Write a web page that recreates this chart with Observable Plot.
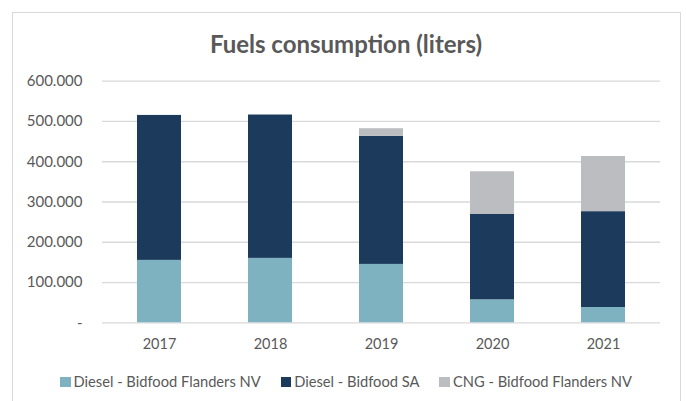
<!DOCTYPE html>
<html>
<head>
<meta charset="utf-8">
<script src="https://cdn.jsdelivr.net/npm/d3@7"></script>
<script src="https://cdn.jsdelivr.net/npm/@observablehq/plot@0.6"></script>
<style>
  html, body { margin: 0; padding: 0; background: #fff; }
  body { width: 686px; height: 401px; position: relative; overflow: hidden; font-family: Lato, "Open Sans", sans-serif; }
  #frame { position: absolute; left: 12px; top: 12px; width: 669px; height: 400px; border: 1.5px solid #d9d9d9; border-bottom: none; box-sizing: border-box; }
  #title { position: absolute; left: 12px; width: 668px; top: 30px; text-align: center; font-weight: bold; font-size: 24px; line-height: 28px; color: #595959; }
  #chart { position: absolute; left: 0; top: 60px; }
  #legend { position: absolute; left: 12px; width: 668px; top: 372px; display: flex; justify-content: center; gap: 20px; font-size: 14.7px; line-height: 19px; color: #595959; }
  #legend .item { display: flex; align-items: center; }
  #legend .sw { width: 10.5px; height: 10px; margin-right: 3px; display: inline-block; }
</style>
</head>
<body>
<div id="frame"></div>
<div id="title">Fuels consumption (liters)</div>
<div id="chart"></div>
<div id="legend"></div>
<script>
const years = ["2017", "2018", "2019", "2020", "2021"];
const seriesNames = ["Diesel - Bidfood Flanders NV", "Diesel - Bidfood SA", "CNG - Bidfood Flanders NV"];
const dieselFlanders = [155000, 160000, 145000, 57000, 38000];
const dieselSA = [360000, 356000, 318000, 212000, 238000];
const cngFlanders = [0, 0, 19000, 106000, 137000];
const yTicks = [0, 100000, 200000, 300000, 400000, 500000, 600000];
const colors = ["#7fb2c1", "#1b3a5c", "#bcbdc0"];

const seriesValues = [dieselFlanders, dieselSA, cngFlanders];
const data = [];
seriesNames.forEach((s, i) => {
  years.forEach((y, j) => data.push({year: y, series: s, value: seriesValues[i][j]}));
});

const fmt = v => v === 0 ? "-" : d3.format(",")(v).replace(/,/g, ".");

const chart = Plot.plot({
  width: 686,
  height: 300,
  marginLeft: 102,
  marginRight: 26,
  marginTop: 20.7,
  marginBottom: 37.7,
  style: {fontFamily: "Lato, 'Open Sans', sans-serif", fontSize: "14px", color: "#595959", background: "transparent"},
  x: {domain: years, paddingInner: 0.6, paddingOuter: 0.3, label: null},
  y: {domain: [0, 600000], label: null},
  color: {domain: seriesNames, range: colors},
  marks: [
    Plot.gridY(yTicks, {stroke: "#d9d9d9", strokeOpacity: 1, strokeWidth: 1.3}),
    Plot.barY(data, Plot.stackY({order: null}, {x: "year", y: "value", fill: "series"})),
    Plot.axisX({tickSize: 0, tickPadding: 15.5, fontSize: 14.5, fill: "#595959"}),
    Plot.axisY(yTicks, {tickSize: 0, tickPadding: 20, tickFormat: fmt, fontSize: 15, fill: "#595959"})
  ]
});
document.getElementById("chart").appendChild(chart);

const legend = document.getElementById("legend");
seriesNames.forEach((s, i) => {
  const item = document.createElement("div");
  item.className = "item";
  const sw = document.createElement("span");
  sw.className = "sw";
  sw.style.background = colors[i];
  const t = document.createElement("span");
  t.textContent = s;
  item.appendChild(sw);
  item.appendChild(t);
  legend.appendChild(item);
});
</script>
</body>
</html>
